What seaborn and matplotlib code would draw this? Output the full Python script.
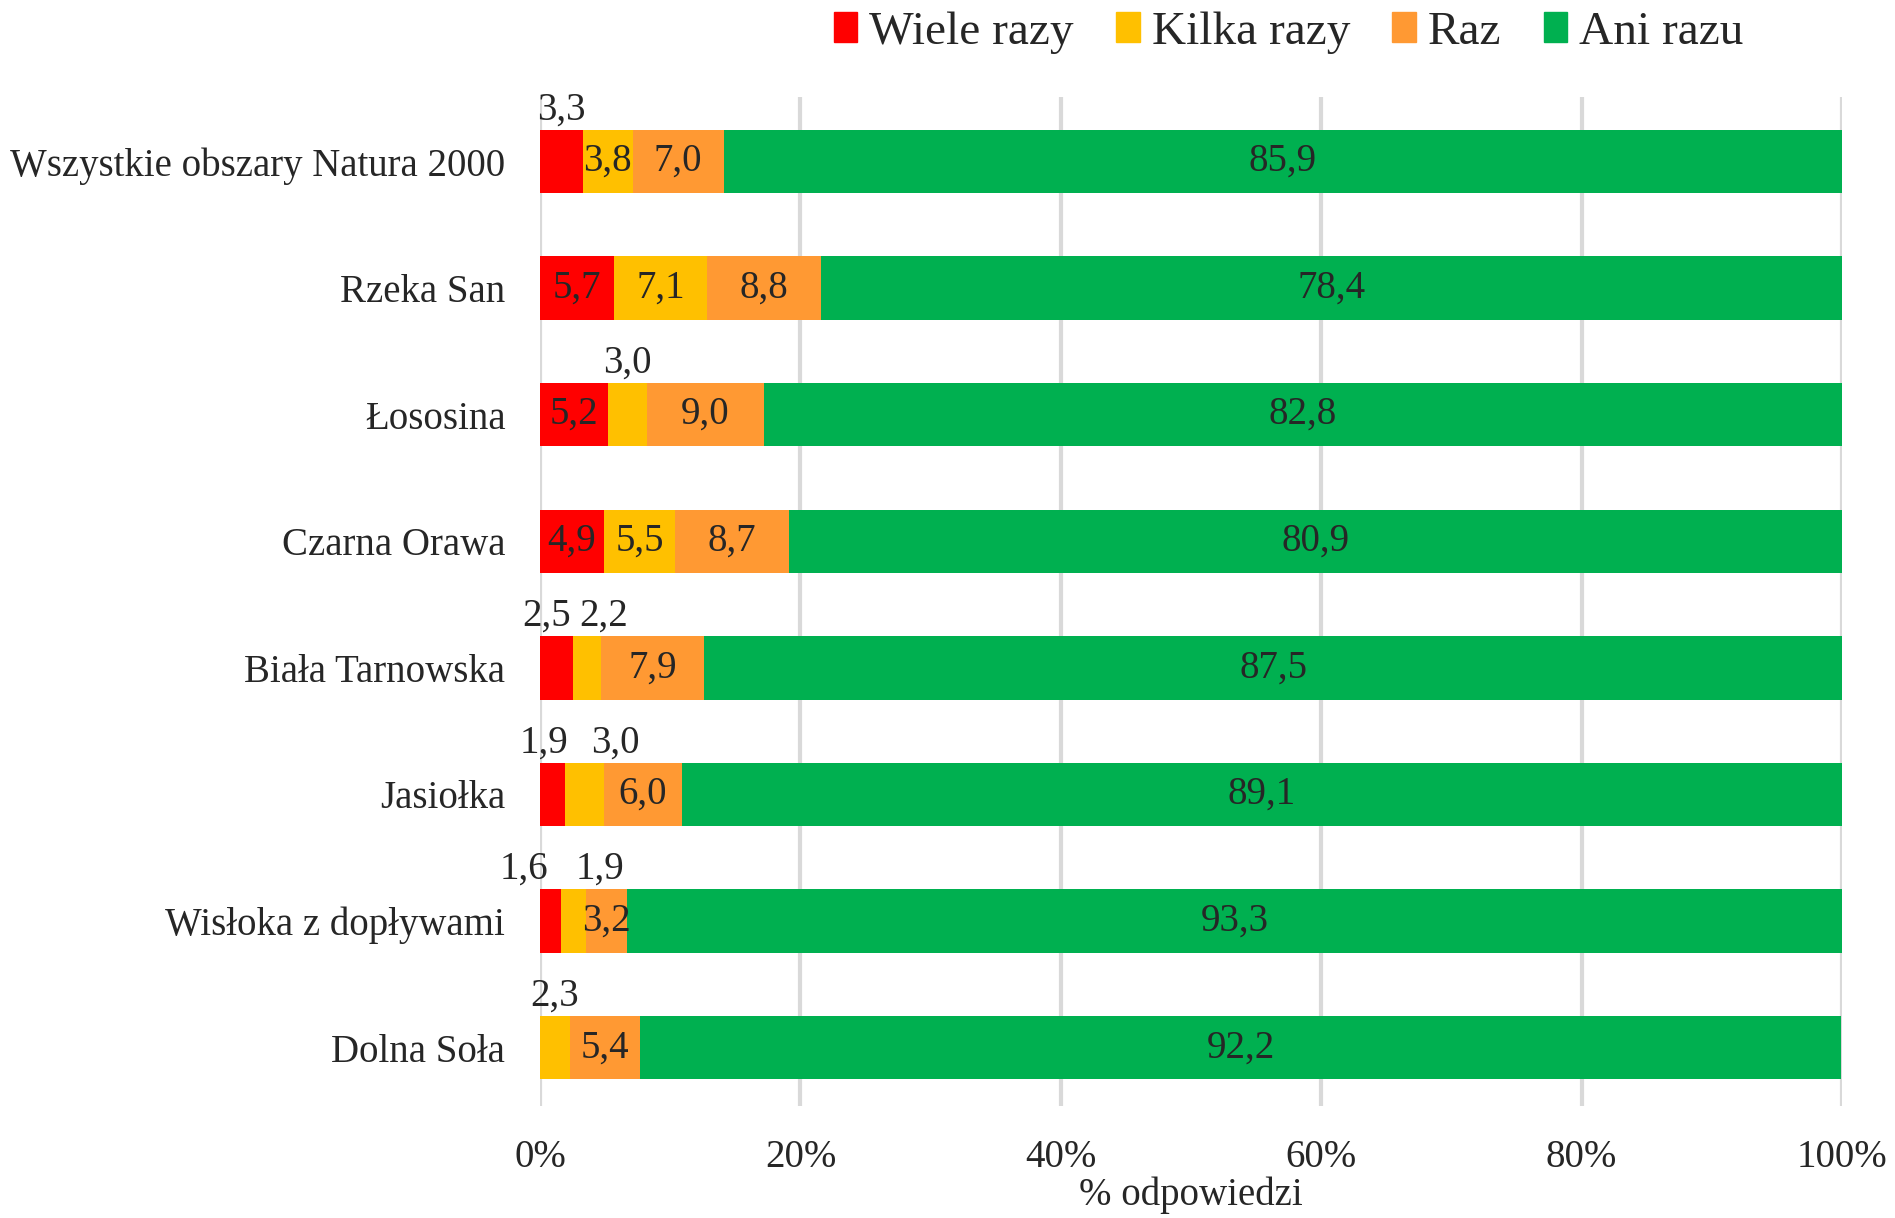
import matplotlib
matplotlib.use('Agg')
import matplotlib.pyplot as plt
import matplotlib.patches as mpatches
import numpy as np
import pandas as pd
import seaborn as sns

# ── data ──
categories = ['Wszystkie obszary Natura 2000', 'Rzeka San', 'Łososina', 'Czarna Orawa',
              'Biała Tarnowska', 'Jasiołka', 'Wisłoka z dopływami', 'Dolna Soła']
series = ['Wiele razy', 'Kilka razy', 'Raz', 'Ani razu']
wiele = [3.3, 5.7, 5.2, 4.9, 2.5, 1.9, 1.6, 0.0]
kilka = [3.8, 7.1, 3.0, 5.5, 2.2, 3.0, 1.9, 2.3]
raz = [7.0, 8.8, 9.0, 8.7, 7.9, 6.0, 3.2, 5.4]
ani = [85.9, 78.4, 82.8, 80.9, 87.5, 89.1, 93.3, 92.2]

colors = ['#FF0000', '#FFC000', '#FF9933', '#00B050']

# offsets (points) for small labels drawn above the bars
above_dx = {(0, 0): 0, (2, 1): 0, (4, 0): -7, (4, 1): 12, (5, 0): -6, (5, 1): 22,
            (6, 0): -19, (6, 1): 19, (7, 1): 0}

sns.set_style('white')
plt.rcParams['font.family'] = ['Liberation Serif', 'DejaVu Serif']

df = pd.DataFrame({'cat': categories, 'Wiele razy': wiele, 'Kilka razy': kilka,
                   'Raz': raz, 'Ani razu': ani})
cum = df[series].cumsum(axis=1)

fig = plt.figure(figsize=(18.95, 12.18), dpi=100)
ax = fig.add_axes([0.285, 0.092, 0.687, 0.828])

# stacked bars: draw cumulative totals from the largest down
for s, c in zip(series[::-1], colors[::-1]):
    sns.barplot(x=cum[s], y=df['cat'], color=c, width=0.5, orient='h',
                saturation=1, ax=ax, linewidth=0, zorder=3)

# value labels
vals = df[series].values
starts = (cum - df[series]).values
for i in range(len(categories)):
    for j in range(len(series)):
        v = vals[i, j]
        if v == 0:
            continue
        txt = f'{v:.1f}'.replace('.', ',')
        xc = starts[i, j] + v / 2
        if (i, j) in above_dx:
            ax.annotate(txt, (xc, i - 0.25), xytext=(above_dx[(i, j)], 1),
                        textcoords='offset points', ha='center', va='bottom',
                        fontsize=28, zorder=5)
        else:
            ax.text(xc, i, txt, ha='center', va='center', fontsize=28, zorder=5)

ax.set_xlim(0, 100)
ax.set_ylim(7.46, -0.505)
ax.set_xticks(np.arange(0, 101, 20))
ax.set_xticklabels([f'{t}%' for t in range(0, 101, 20)])
ax.xaxis.grid(True, color='#D9D9D9', linewidth=3, zorder=0)
ax.set_axisbelow(True)
for sp in ax.spines.values():
    sp.set_visible(False)
ax.tick_params(axis='y', length=0, pad=25, labelsize=28)
ax.tick_params(axis='x', length=0, pad=24, labelsize=28)
ax.set_ylabel('')
ax.set_xlabel('% odpowiedzi', fontsize=28, labelpad=0)

handles = [mpatches.Patch(color=c, label=s) for s, c in zip(series, colors)]
fig.legend(handles=handles, loc='center', bbox_to_anchor=(0.68, 0.973), ncol=4,
           frameon=False, fontsize=34, handlelength=0.5, handleheight=0.6,
           handletextpad=0.25, columnspacing=0.9)

plt.savefig('out.png', dpi=100)
